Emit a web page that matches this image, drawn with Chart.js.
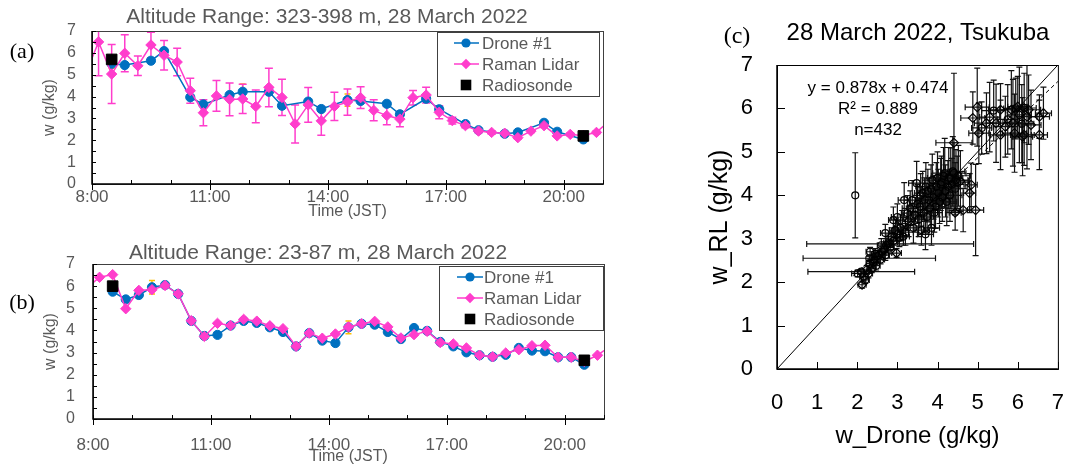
<!DOCTYPE html>
<html>
<head>
<meta charset="utf-8">
<script src="https://cdn.jsdelivr.net/npm/chart.js@4.4.0/dist/chart.umd.min.js"></script>
<style>
  body { margin: 0; background: #fff; }
  #wrap { position: relative; width: 1085px; height: 466px; overflow: hidden; }
  canvas { position: absolute; }
</style>
</head>
<body>
<div id="wrap">
  <canvas id="chartA" width="620" height="225" style="left:0px;top:0px"></canvas>
  <canvas id="chartB" width="620" height="236" style="left:0px;top:230px"></canvas>
  <canvas id="chartC" width="385" height="466" style="left:700px;top:0px"></canvas>
</div>
<script>
// Donnees (w en g/kg, heure JST)
const lidarTimes = ['7:50', '8:10', '8:30', '8:50', '9:10', '9:30', '9:50', '10:10', '10:30', '10:50',
  '11:10', '11:30', '11:50', '12:10', '12:30', '12:50', '13:10', '13:30', '13:50', '14:10',
  '14:30', '14:50', '15:10', '15:30', '15:50', '16:10', '16:30', '16:50', '17:10', '17:30',
  '17:50', '18:10', '18:30', '18:50', '19:10', '19:30', '19:50', '20:10', '20:30', '20:50', '21:10'];
const radioTimes = ['8:30', '20:30'];
const xTicks = [8, 11, 14, 17, 20];

// (a) 323-398 m
const lidarA = [5.0, 6.5, 5.03, 5.98, 5.41, 6.36, 5.89, 5.58, 4.27, 3.26,
  4.03, 3.87, 3.89, 3.55, 4.42, 3.96, 2.75, 3.62, 2.89, 3.55,
  3.75, 3.95, 3.37, 3.13, 2.97, 3.95, 4.07, 3.28, 2.9, 2.67,
  2.42, 2.36, 2.32, 2.12, 2.42, 2.67, 2.2, 2.27, 2.22, 2.36, 2.9];
const lidarErrA = [1.0, 1.55, 1.35, 0.85, 0.45, 0.58, 0.67, 0.63, 0.57, 0.6,
  0.7, 0.75, 0.67, 0.75, 0.88, 0.83, 0.87, 0.8, 0.66, 0.65,
  0.6, 0.5, 0.48, 0.42, 0.35, 0.33, 0.36, 0.3, 0.15, 0.1,
  0.08, 0.08, 0.06, 0.06, 0.06, 0.08, 0.06, 0.06, 0.06, 0.06, 0.1];
const droneTimesA = ['8:30', '8:50', '9:30', '9:50', '10:30', '10:50', '11:30', '11:50', '12:30', '12:50',
  '13:30', '13:50', '14:30', '14:50', '15:30', '15:50', '16:30', '16:50', '17:30', '17:50',
  '18:30', '18:50', '19:30', '19:50', '20:30'];
const droneA = [5.5, 5.44, 5.64, 6.08, 3.97, 3.64, 4.07, 4.22, 4.22, 3.58,
  3.77, 3.43, 3.84, 3.8, 3.67, 3.19, 3.9, 3.42, 2.74, 2.46,
  2.3, 2.36, 2.8, 2.39, 2.04];
const droneErrA = [0.2, 0.05, 0.05, 0.05, 0.05, 0.05, 0.1, 0.35, 0.1, 0.05,
  0.1, 0.05, 0.28, 0.1, 0.05, 0.05, 0.05, 0.05, 0.05, 0.05,
  0.05, 0.05, 0.05, 0.05, 0.05];
const radioA = [5.7, 2.2];

// (b) 23-87 m
const lidarB = [5.9, 6.4, 6.52, 4.98, 5.81, 5.84, 6.03, 5.65, 4.44, 3.73,
  4.32, 4.22, 4.5, 4.42, 4.21, 4.08, 3.28, 3.88, 3.65, 3.84,
  4.16, 4.3, 4.41, 4.16, 3.66, 3.81, 3.96, 3.45, 3.39, 3.21,
  2.88, 2.81, 2.98, 3.13, 3.31, 3.33, 2.79, 2.79, 2.6, 2.88, 3.3];
const droneTimesB = lidarTimes.slice(2, 39);
const droneB = [5.75, 5.4, 5.6, 5.95, 6.05, 5.65, 4.43, 3.75, 3.8, 4.22,
  4.43, 4.34, 4.14, 3.93, 3.28, 3.88, 3.54, 3.43, 4.14, 4.3,
  4.26, 3.93, 3.61, 4.11, 3.98, 3.48, 3.28, 3.01, 2.88, 2.81,
  2.9, 3.21, 3.09, 3.06, 2.79, 2.79, 2.45];
const droneErrB = [0.05, 0.05, 0.05, 0.3, 0.05, 0.05, 0.05, 0.05, 0.05, 0.05,
  0.05, 0.05, 0.05, 0.05, 0.05, 0.05, 0.05, 0.05, 0.29, 0.05,
  0.05, 0.05, 0.05, 0.05, 0.05, 0.05, 0.05, 0.05, 0.05, 0.05,
  0.05, 0.05, 0.05, 0.05, 0.05, 0.05, 0.05];
const radioB = [6.0, 2.65];

// (c) nuage w_Drone / w_RL
const circX = [2.01, 2.16, 2.20, 2.24, 2.28, 2.32, 2.32, 2.36, 2.40, 2.43,
  2.45, 2.47, 2.50, 2.55, 2.58, 2.60, 2.62, 2.67, 2.70, 2.70,
  2.72, 2.78, 2.82, 2.86, 2.90, 2.90, 2.95, 3.00, 3.00, 3.05,
  3.08, 3.12, 3.15, 3.17, 3.20, 3.25, 3.28, 3.32, 3.37, 3.40,
  3.44, 3.48, 3.50, 3.53, 3.56, 3.58, 3.60, 3.63, 3.66, 3.68,
  3.70, 3.71, 3.74, 3.76, 3.79, 3.82, 3.84, 3.85, 3.87, 3.90,
  3.92, 3.95, 3.97, 4.00, 4.02, 4.05, 4.08, 4.10, 4.12, 4.15,
  4.18, 4.20, 4.23, 4.26, 4.28, 4.31, 4.33, 4.36, 4.38, 4.41,
  4.44, 4.46, 4.49, 4.52, 1.95, 2.82, 2.30, 2.10, 5.10, 5.75,
  5.95, 6.10, 5.40];
const circY = [2.20, 2.13, 2.05, 2.28, 2.20, 2.43, 2.70, 2.32, 2.45, 2.51,
  2.65, 2.38, 2.60, 2.63, 2.52, 2.85, 2.70, 2.74, 2.62, 3.13,
  2.85, 2.90, 2.80, 3.05, 2.95, 3.43, 3.20, 3.10, 3.50, 3.02,
  3.25, 3.35, 3.05, 3.89, 3.15, 3.59, 3.40, 3.70, 3.89, 3.25,
  3.55, 4.28, 3.80, 3.45, 3.74, 4.00, 3.20, 4.05, 3.60, 3.90,
  3.10, 4.20, 3.50, 4.10, 3.89, 3.70, 4.15, 3.25, 4.35, 3.95,
  3.60, 3.74, 4.20, 4.40, 4.05, 3.85, 4.25, 4.30, 3.95, 4.45,
  4.51, 4.10, 3.85, 4.20, 4.40, 4.00, 4.39, 4.25, 4.55, 4.51,
  4.15, 4.35, 4.30, 4.45, 4.00, 2.88, 2.55, 2.24, 5.55, 5.75,
  6.00, 5.65, 5.95];
const circXErr = [0.15, 0.10, 0.10, 0.12, 0.10, 0.10, 0.10, 0.10, 0.10, 0.12,
  0.10, 0.10, 0.10, 0.12, 0.10, 0.10, 0.10, 0.10, 0.10, 0.12,
  0.12, 0.12, 0.10, 0.12, 0.12, 0.12, 0.15, 0.15, 0.15, 0.15,
  0.15, 0.15, 0.15, 0.15, 0.20, 0.15, 0.15, 0.20, 0.20, 0.20,
  0.20, 0.20, 0.20, 0.20, 0.20, 0.20, 0.20, 0.20, 0.20, 0.20,
  0.20, 0.25, 0.20, 0.25, 0.25, 0.20, 0.25, 0.20, 0.25, 0.25,
  0.20, 0.25, 0.25, 0.25, 0.25, 0.25, 0.25, 0.30, 0.25, 0.30,
  0.30, 0.25, 0.25, 0.30, 0.30, 0.30, 0.30, 0.30, 0.30, 0.30,
  0.30, 0.30, 0.30, 0.30, 0.00, 2.08, 1.65, 1.33, 0.25, 0.25,
  0.30, 0.30, 0.30];
const circYErr = [0.08, 0.10, 0.08, 0.10, 0.10, 0.10, 0.10, 0.10, 0.12, 0.10,
  0.12, 0.10, 0.12, 0.10, 0.10, 0.15, 0.12, 0.12, 0.12, 0.20,
  0.15, 0.15, 0.15, 0.20, 0.20, 0.30, 0.25, 0.25, 0.30, 0.20,
  0.30, 0.30, 0.20, 0.40, 0.30, 0.40, 0.35, 0.40, 0.45, 0.35,
  0.40, 0.50, 0.45, 0.40, 0.45, 0.50, 0.35, 0.50, 0.45, 0.50,
  0.35, 0.55, 0.40, 0.50, 0.50, 0.45, 0.55, 0.40, 0.60, 0.50,
  0.45, 0.50, 0.55, 0.60, 0.55, 0.50, 0.60, 0.60, 0.55, 0.65,
  0.80, 0.60, 0.55, 0.60, 0.70, 0.60, 0.70, 0.60, 0.80, 0.70,
  0.60, 0.70, 0.60, 0.70, 0.98, 0.05, 0.05, 0.05, 0.60, 0.80,
  0.70, 0.90, 0.70];
const diaX = [2.12, 2.98, 4.44, 4.64, 4.80, 4.84, 4.95, 4.41, 4.57, 4.88,
  4.99, 5.03, 5.22, 5.30, 5.46, 5.57, 5.57, 5.69, 5.84, 5.88,
  5.92, 6.00, 6.04, 6.12, 6.16, 6.23, 6.27, 6.33, 6.54, 6.54,
  6.64, 6.16];
const diaY = [1.94, 2.67, 3.60, 3.66, 4.05, 4.24, 3.66, 5.21, 4.33, 5.78,
  6.03, 5.43, 5.66, 5.80, 5.66, 5.97, 5.39, 5.58, 5.97, 5.67,
  5.43, 6.04, 5.85, 5.35, 6.01, 5.81, 5.97, 5.62, 5.39, 5.81,
  5.89, 5.39];
const diaXErr = [0.10, 0.12, 0.15, 0.20, 0.15, 0.15, 0.20, 0.45, 0.20, 0.30,
  0.30, 0.25, 0.30, 0.25, 0.25, 0.30, 0.25, 0.30, 0.30, 0.25,
  0.30, 0.25, 0.30, 0.25, 0.30, 0.25, 0.30, 0.25, 0.20, 0.25,
  0.20, 0.25];
const diaYErr = [0.08, 0.10, 0.40, 0.50, 0.45, 0.50, 1.05, 1.60, 0.70, 0.60,
  0.90, 0.70, 0.70, 0.80, 0.90, 0.60, 0.80, 0.70, 0.90, 1.00,
  0.90, 0.70, 1.10, 0.90, 0.80, 1.20, 0.80, 0.80, 0.80, 0.50,
  0.60, 0.70];
const fitSlope = 0.878;
const fitIntercept = 0.474;
const fitRange = [1.9, 7];

const GRAY = '#595959';
const BLUE = '#0070C0';
const PINK = '#FF3DCC';
const SANS = "'Liberation Sans', Arial, sans-serif";
const SERIF = "'Liberation Serif', 'Times New Roman', serif";

function hours(t) {
  const [h, m] = t.split(':').map(Number);
  return h + m / 60;
}
function timePoints(times, vals) {
  return times.map((t, i) => ({ x: hours(t), y: vals[i] }));
}
function xyPoints(xs, ys) {
  return xs.map((v, i) => ({ x: v, y: ys[i] }));
}

// Barres d'erreur (sous les marqueurs)
const errorBars = {
  id: 'errorBars',
  beforeDatasetsDraw(chart) {
    const { ctx, chartArea: a, scales: { x, y } } = chart;
    ctx.save();
    ctx.beginPath();
    ctx.rect(a.left, a.top, a.right - a.left, a.bottom - a.top);
    ctx.clip();
    chart.data.datasets.forEach(ds => {
      if (!ds.errY && !ds.errX) return;
      ctx.strokeStyle = ds.errColor;
      ctx.lineWidth = ds.errWidth;
      const cap = ds.errCap;
      ds.data.forEach((p, i) => {
        const px = x.getPixelForValue(p.x);
        const py = y.getPixelForValue(p.y);
        ctx.beginPath();
        if (ds.errY && ds.errY[i]) {
          const t = y.getPixelForValue(p.y + ds.errY[i]);
          const b = y.getPixelForValue(p.y - ds.errY[i]);
          ctx.moveTo(px, t); ctx.lineTo(px, b);
          ctx.moveTo(px - cap, t); ctx.lineTo(px + cap, t);
          ctx.moveTo(px - cap, b); ctx.lineTo(px + cap, b);
        }
        if (ds.errX && ds.errX[i]) {
          const l = x.getPixelForValue(p.x - ds.errX[i]);
          const r = x.getPixelForValue(p.x + ds.errX[i]);
          ctx.moveTo(l, py); ctx.lineTo(r, py);
          ctx.moveTo(l, py - cap); ctx.lineTo(l, py + cap);
          ctx.moveTo(r, py - cap); ctx.lineTo(r, py + cap);
        }
        ctx.stroke();
      });
    });
    ctx.restore();
  }
};

// Cadre et graduations
const frame = {
  id: 'frame',
  afterDatasetsDraw(chart, args, o) {
    const { ctx, chartArea: a, scales: { x, y } } = chart;
    ctx.save();
    ctx.lineWidth = 1;
    ctx.strokeStyle = o.boxColor;
    ctx.strokeRect(a.left + 0.5, a.top + 0.5, a.right - a.left, a.bottom - a.top);
    ctx.strokeStyle = o.axisColor;
    ctx.lineWidth = o.axisWidth;
    ctx.beginPath();
    ctx.moveTo(a.left, a.top);
    ctx.lineTo(a.left, a.bottom);
    ctx.lineTo(a.right, a.bottom);
    ctx.stroke();
    ctx.lineWidth = 1;
    ctx.beginPath();
    for (let v = y.min; v <= y.max + 1e-9; v += o.yStep) {
      const py = Math.round(y.getPixelForValue(v)) + 0.5;
      ctx.moveTo(a.left, py); ctx.lineTo(a.left + o.yTickLen, py);
    }
    for (let v = x.min; v <= x.max + 1e-9; v += o.xStep) {
      const px = Math.round(x.getPixelForValue(v)) + 0.5;
      const major = o.xMajor && Math.abs((v - x.min) % o.xMajor) < 1e-6;
      ctx.moveTo(px, a.bottom - o.xTickLen);
      ctx.lineTo(px, a.bottom + (major ? o.majorOut : 0));
    }
    ctx.stroke();
    ctx.restore();
  }
};

function drawMarker(ctx, style, r, color, x, y) {
  ctx.fillStyle = color;
  ctx.beginPath();
  if (style === 'rect') {
    const s = r * Math.SQRT1_2;
    ctx.rect(x - s, y - s, 2 * s, 2 * s);
  } else if (style === 'rectRot') {
    ctx.moveTo(x - r, y); ctx.lineTo(x, y - r); ctx.lineTo(x + r, y); ctx.lineTo(x, y + r);
    ctx.closePath();
  } else {
    ctx.arc(x, y, r, 0, Math.PI * 2);
  }
  ctx.fill();
}

// Legende encadree dans la zone du graphique
const boxLegend = {
  id: 'boxLegend',
  afterDraw(chart, args, o) {
    if (!o.box) return;
    const { ctx } = chart;
    const [x1, y1, x2, y2] = o.box;
    ctx.save();
    ctx.fillStyle = '#fff';
    ctx.fillRect(x1, y1, x2 - x1, y2 - y1);
    ctx.strokeStyle = '#404040';
    ctx.lineWidth = 1;
    ctx.strokeRect(x1 + 0.5, y1 + 0.5, x2 - x1, y2 - y1);
    chart.data.datasets.forEach((ds, i) => {
      const ry = o.rows[i];
      if (ds.showLine !== false) {
        ctx.strokeStyle = ds.borderColor;
        ctx.lineWidth = 1.5;
        ctx.beginPath();
        ctx.moveTo(o.lineX[0], ry); ctx.lineTo(o.lineX[1], ry);
        ctx.stroke();
      }
      drawMarker(ctx, ds.pointStyle, ds.pointRadius, ds.pointBackgroundColor, o.markX, ry);
      ctx.font = o.font;
      ctx.fillStyle = GRAY;
      ctx.textAlign = 'left';
      ctx.textBaseline = 'middle';
      ctx.fillText(ds.label, o.textX, ry + 1);
    });
    ctx.restore();
  }
};

// Textes libres (titres, lettres de panneau, equation)
const texts = {
  id: 'texts',
  afterDraw(chart, args, o) {
    const { ctx } = chart;
    (o.items || []).forEach(t => {
      ctx.save();
      ctx.font = t.font;
      ctx.fillStyle = t.color;
      ctx.textAlign = t.align || 'center';
      ctx.textBaseline = 'middle';
      ctx.fillText(t.text, t.x, t.y);
      ctx.restore();
    });
  }
};

function timeChart(id, c) {
  return new Chart(document.getElementById(id), {
    type: 'scatter',
    data: {
      datasets: [
        {
          label: 'Drone #1', data: timePoints(c.droneTimes, c.drone), showLine: true,
          errY: c.droneErr, errColor: '#FFC000', errWidth: 1.5, errCap: 3,
          borderColor: BLUE, borderWidth: 1.5, pointStyle: 'circle', pointRadius: 4.6,
          pointBackgroundColor: BLUE, pointBorderColor: BLUE, pointBorderWidth: 1, order: 2
        },
        {
          label: 'Raman Lidar', data: timePoints(lidarTimes, c.lidar), showLine: true,
          errY: c.lidarErr, errColor: PINK, errWidth: 1.5, errCap: 4,
          borderColor: PINK, borderWidth: 1.5, pointStyle: 'rectRot', pointRadius: 5.2,
          pointBackgroundColor: PINK, pointBorderColor: PINK, pointBorderWidth: 1, order: 1
        },
        {
          label: 'Radiosonde', data: timePoints(radioTimes, c.radio), showLine: false,
          pointStyle: 'rect', pointRadius: 7.5, pointBackgroundColor: '#000',
          pointBorderColor: '#000', pointBorderWidth: 1, order: 0
        }
      ]
    },
    options: {
      responsive: false,
      devicePixelRatio: 1,
      animation: false,
      events: [],
      layout: { padding: { left: 0, right: c.padRight, top: c.padTop, bottom: 0 } },
      scales: {
        x: {
          type: 'linear', min: 8, max: 21,
          afterFit: s => { s.height = c.xAxisHeight; },
          grid: { display: false, drawTicks: false },
          border: { display: false },
          ticks: {
            stepSize: 1, autoSkip: false, maxRotation: 0, padding: c.xTickPad,
            color: GRAY, font: { family: SANS, size: 17 },
            callback: v => (xTicks.includes(v) ? v + ':00' : '')
          },
          title: {
            display: true, text: 'Time (JST)', color: GRAY,
            font: { family: SANS, size: 16 }, padding: { top: 0, bottom: c.xTitlePad }
          }
        },
        y: {
          min: 0, max: 7,
          afterFit: s => { s.width = c.yAxisWidth; },
          grid: { display: false, drawTicks: false },
          border: { display: false },
          ticks: { stepSize: 1, autoSkip: false, padding: c.yTickPad, color: GRAY, font: { family: SANS, size: 16 } },
          title: {
            display: true, text: 'w (g/kg)', color: GRAY,
            font: { family: SANS, size: 16 }, padding: { top: c.yTitlePad, bottom: 0 }
          }
        }
      },
      plugins: {
        legend: { display: false },
        tooltip: { enabled: false },
        frame: {
          boxColor: '#404040', axisColor: '#000', axisWidth: 1.5,
          yStep: 0.5, yTickLen: 4, xStep: 1, xMajor: 3, xTickLen: 4, majorOut: 6
        },
        boxLegend: c.legend,
        texts: { items: c.texts }
      }
    },
    plugins: [errorBars, frame, boxLegend, texts]
  });
}

timeChart('chartA', {
  drone: droneA, droneErr: droneErrA, droneTimes: droneTimesA,
  lidar: lidarA, lidarErr: lidarErrA, radio: radioA,
  padTop: 31, padRight: 17, xAxisHeight: 41, yAxisWidth: 92,
  xTickPad: 3, yTickPad: 16, xTitlePad: 4, yTitlePad: 40,
  legend: {
    box: [437, 32, 599, 96], rows: [43, 64, 85], lineX: [454, 479], markX: 466, textX: 482,
    font: '17px ' + SANS
  },
  texts: [
    { text: 'Altitude Range: 323-398 m, 28 March 2022', x: 327, y: 17, font: '21px ' + SANS, color: GRAY },
    { text: '(a)', x: 22, y: 52, font: '22px ' + SERIF, color: '#000' }
  ]
});

timeChart('chartB', {
  drone: droneB, droneErr: droneErrB, droneTimes: droneTimesB,
  lidar: lidarB, lidarErr: null, radio: radioB,
  padTop: 34, padRight: 13, xAxisHeight: 47, yAxisWidth: 93,
  xTickPad: 16, yTickPad: 18, xTitlePad: 0, yTitlePad: 41,
  legend: {
    box: [439, 36, 603, 100], rows: [47, 68, 89], lineX: [457, 483], markX: 470, textX: 484,
    font: '17px ' + SANS
  },
  texts: [
    { text: 'Altitude Range: 23-87 m, 28 March 2022', x: 318, y: 23, font: '21px ' + SANS, color: GRAY },
    { text: '(b)', x: 22, y: 73, font: '22px ' + SERIF, color: '#000' }
  ]
});

new Chart(document.getElementById('chartC'), {
  type: 'scatter',
  data: {
    datasets: [
      {
        label: '1:1', data: [{ x: 0, y: 0 }, { x: 7, y: 7 }], showLine: true,
        borderColor: '#000', borderWidth: 1, pointRadius: 0
      },
      {
        label: 'fit', data: fitRange.map(v => ({ x: v, y: fitSlope * v + fitIntercept })), showLine: true,
        borderColor: '#000', borderWidth: 1, borderDash: [4, 3], pointRadius: 0
      },
      {
        label: 'circles', data: xyPoints(circX, circY), errX: circXErr, errY: circYErr,
        errColor: '#111', errWidth: 1.2, errCap: 3,
        pointStyle: 'circle', pointRadius: 3.5, pointBorderWidth: 1.2,
        pointBackgroundColor: 'rgba(0,0,0,0)', pointBorderColor: '#000'
      },
      {
        label: 'diamonds', data: xyPoints(diaX, diaY), errX: diaXErr, errY: diaYErr,
        errColor: '#111', errWidth: 1.2, errCap: 3,
        pointStyle: 'rectRot', pointRadius: 4.5, pointBorderWidth: 1.2,
        pointBackgroundColor: 'rgba(0,0,0,0)', pointBorderColor: '#000'
      }
    ]
  },
  options: {
    responsive: false,
    devicePixelRatio: 1,
    animation: false,
    events: [],
    layout: { padding: { left: 0, right: 7, top: 65, bottom: 0 } },
    scales: {
      x: {
        type: 'linear', min: 0, max: 7,
        afterFit: s => { s.height = 97; },
        grid: { display: false, drawTicks: false },
        border: { display: false },
        ticks: { stepSize: 1, autoSkip: false, maxRotation: 0, padding: 21, color: '#000', font: { family: SANS, size: 22 } },
        title: { display: true, text: 'w_Drone (g/kg)', color: '#000', font: { family: SANS, size: 24 }, padding: { top: 0, bottom: 15 } }
      },
      y: {
        min: 0, max: 7,
        afterFit: s => { s.width = 77; },
        grid: { display: false, drawTicks: false },
        border: { display: false },
        ticks: { stepSize: 1, autoSkip: false, padding: 24, color: '#000', font: { family: SANS, size: 22 } },
        title: { display: true, text: 'w_RL (g/kg)', color: '#000', font: { family: SANS, size: 25 }, padding: { top: 5, bottom: 0 } }
      }
    },
    plugins: {
      legend: { display: false },
      tooltip: { enabled: false },
      frame: {
        boxColor: '#000', axisColor: '#000', axisWidth: 1.5,
        yStep: 1, yTickLen: 8, xStep: 1, xMajor: 0, xTickLen: 7, majorOut: 0
      },
      texts: {
        items: [
          { text: '28 March 2022, Tsukuba', x: 218, y: 33, font: '24px ' + SANS, color: '#000' },
          { text: '(c)', x: 37, y: 37, font: '24px ' + SERIF, color: '#000' },
          { text: 'y = 0.878x + 0.474', x: 178, y: 88, font: '17px ' + SANS, color: '#000' },
          { text: 'R\u00B2 = 0.889', x: 178, y: 109, font: '17px ' + SANS, color: '#000' },
          { text: 'n=432', x: 178, y: 130, font: '17px ' + SANS, color: '#000' }
        ]
      }
    }
  },
  plugins: [errorBars, frame, texts]
});
</script>
</body>
</html>
